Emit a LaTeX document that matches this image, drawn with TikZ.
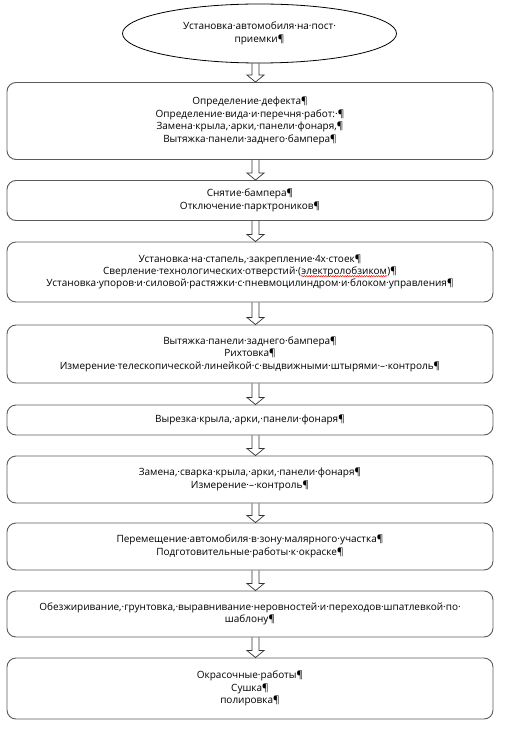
\documentclass[tikz,border=0pt]{standalone}
\usepackage{fontspec}
\setmainfont{Open Sans}
\usetikzlibrary{shapes.geometric,calc,decorations.pathmorphing}
\definecolor{linegray}{HTML}{5A5A5A}
\newcommand\spellwave[1]{\tikz[baseline=(w.base),x=1pt,y=1pt,sharp corners]{\node[inner sep=0pt,draw=none,shape=rectangle,minimum width=0pt,minimum height=0pt,sharp corners] (w) {#1};
  \draw[red, line width=0.45pt, sharp corners, decorate, decoration={snake, amplitude=0.7pt, segment length=2.4pt}] ([yshift=-1.6pt]w.base west) -- ([yshift=-1.6pt]w.base east);}}
\newcommand\txtfont{\fontsize{10}{12.4}\selectfont}
\begin{document}
\begin{tikzpicture}[x=1pt,y=-1pt,
  box/.style={draw=linegray, line width=0.9pt, rounded corners=9pt, minimum width=486pt, align=center, inner sep=0pt, font=\txtfont},
  oval/.style={draw=black, line width=0.8pt, ellipse, minimum width=274pt, minimum height=59pt, inner sep=0pt, align=center, font=\txtfont},
  blockarrow/.style={draw=black!80, line width=0.7pt, line join=miter}
]
\useasboundingbox (0,0) rectangle (506,735);
\coordinate (ax) at (255.5,0);
\node[oval] (e) at (259.5,33.5) {Установка·автомобиля·на·пост·\\приемки¶};
\node[box, minimum height=77pt] (b1) at (250,121) {Определение·дефекта¶\\Определение·вида·и·перечня·работ:·¶\\Замена·крыла,·арки,·панели·фонаря,¶\\Вытяжка·панели·заднего·бампера¶};
\node[box, minimum height=40pt] (b2) at (250,200.5) {Снятие·бампера¶\\Отключение·парктроников¶};
\node[box, minimum height=60pt] (b3) at (250,272) {Установка·на·стапель,·закрепление·4х·стоек¶\\Сверление·технологических·отверстий·(\spellwave{электролобзиком})¶\\Установка·упоров·и·силовой·растяжки·с·пневмоцилиндром·и·блоком·управления¶};
\node[box, minimum height=58pt] (b4) at (250,354) {Вытяжка·панели·заднего·бампера¶\\Рихтовка¶\\Измерение·телескопической·линейкой·с·выдвижными·штырями·–·контроль¶};
\node[box, minimum height=30pt] (b5) at (250,420) {Вырезка·крыла,·арки,·панели·фонаря¶};
\node[box, minimum height=47pt] (b6) at (250,479.5) {Замена,·сварка·крыла,·арки,·панели·фонаря¶\\Измерение·–·контроль¶};
\node[box, minimum height=47pt] (b7) at (250,546.5) {Перемещение·автомобиля·в·зону·малярного·участка¶\\Подготовительные·работы·к·окраске¶};
\node[box, minimum height=46pt] (b8) at (250,614) {Обезжиривание,·грунтовка,·выравнивание·неровностей·и·переходов·шпатлевкой·по·\\шаблону¶};
\node[box, minimum height=61pt] (b9) at (250,688.5) {Окрасочные·работы¶\\Сушка¶\\полировка¶};
\foreach \a/\b in {e/b1,b1/b2,b2/b3,b3/b4,b4/b5,b5/b6,b6/b7,b7/b8,b8/b9}{
  \draw[blockarrow] let \p1=(ax |- \a.south), \p2=(ax |- \b.north) in
    (\x1-3.5pt,\y1) -- (\x1-3.5pt,\y2+7pt) -- (\x1-8.5pt,\y2+7pt) -- (\x1,\y2)
    -- (\x1+8.5pt,\y2+7pt) -- (\x1+3.5pt,\y2+7pt) -- (\x1+3.5pt,\y1);
}
\end{tikzpicture}
\end{document}
